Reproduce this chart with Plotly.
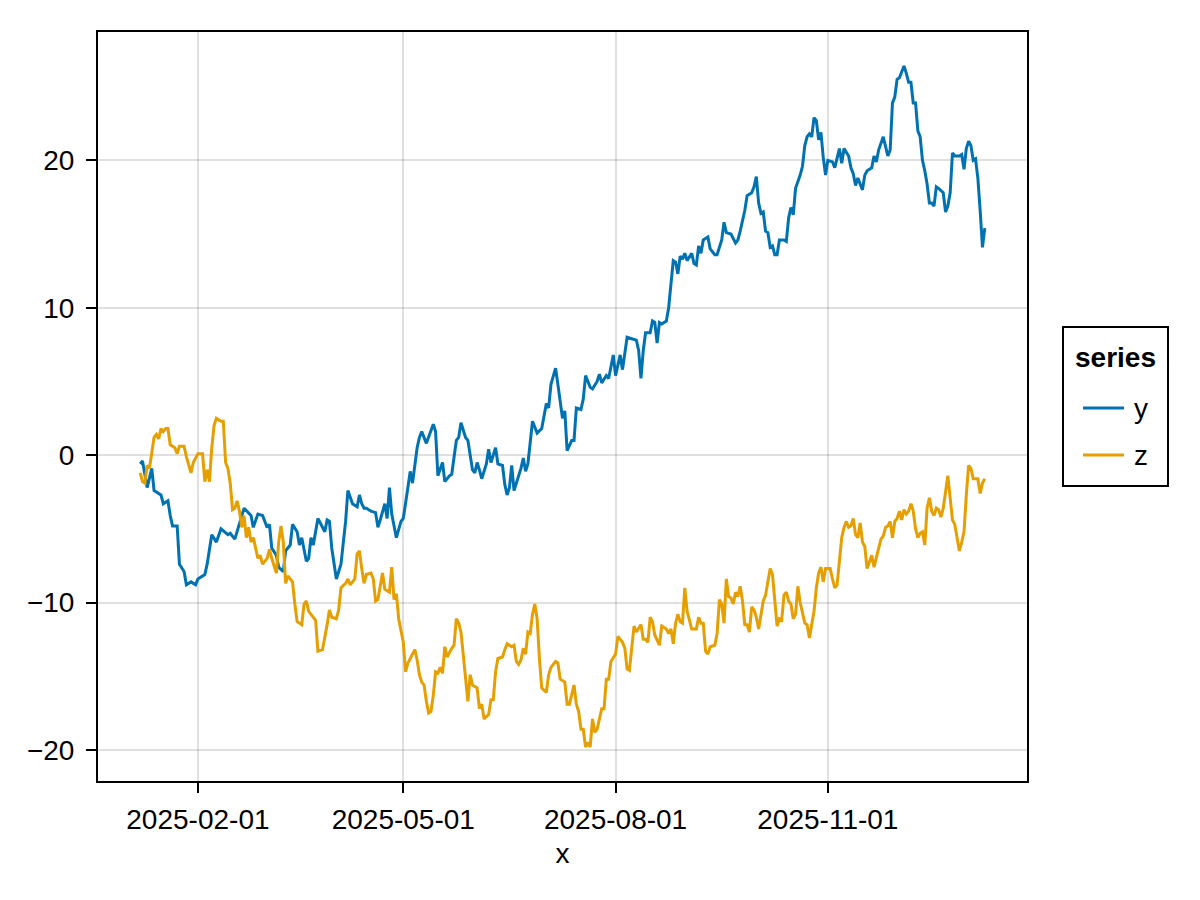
import pandas as pd
import plotly.graph_objects as go

START = "2025-01-07"

# series y: day offsets from START and values
y_days = [0, 1, 3, 5, 6, 9, 10, 12, 13, 14, 16, 17, 19, 20, 22, 24, 25, 28, 29, 31,
          33, 35, 38, 39, 41, 43, 45, 48, 49, 51, 53, 55, 56, 57, 59, 60, 62, 63, 65, 66,
          68, 69, 70, 72, 73, 74, 75, 77, 79, 80, 81, 82, 83, 85, 87, 89, 90, 92, 94, 95,
          96, 97, 98, 100, 102, 103, 104, 106, 107, 108, 109, 111, 113, 114, 116, 117, 118, 120, 121, 122,
          124, 125, 127, 128, 129, 131, 132, 134, 135, 137, 138, 139, 141, 142, 144, 145, 146, 147, 148, 150,
          151, 152, 154, 155, 157, 158, 159, 160, 161, 162, 164, 165, 166, 167, 168, 170, 172, 174, 176, 177,
          178, 180, 181, 183, 184, 185, 187, 188, 189, 191, 192, 193, 195, 196, 198, 199, 200, 202, 203, 205,
          206, 208, 209, 211, 213, 215, 216, 217, 218, 219, 221, 222, 223, 224, 225, 226, 228, 229, 230, 231,
          232, 233, 234, 235, 236, 237, 239, 240, 241, 242, 243, 244, 246, 247, 249, 250, 252, 253, 254, 256,
          258, 259, 260, 262, 263, 265, 266, 267, 268, 269, 270, 271, 272, 273, 274, 275, 276, 277, 279, 280,
          281, 282, 283, 284, 286, 287, 288, 289, 290, 291, 292, 293, 294, 295, 296, 297, 298, 300, 301, 302,
          303, 304, 305, 307, 308, 309, 310, 311, 313, 314, 315, 317, 318, 319, 320, 322, 323, 324, 325, 326,
          327, 328, 329, 331, 332, 333, 334, 335, 336, 337, 338, 339, 340, 341, 342, 343, 344, 345, 346, 348,
          349, 350, 351, 352, 353, 355, 356, 357, 358, 359, 360, 361, 362, 363, 364, 365, 366]
y_vals = [-0.6, -0.4, -2.2, -0.9, -2.4, -2.7, -3.3, -3.1, -4.1, -4.8, -4.8, -7.4, -7.9, -8.8, -8.6, -8.8, -8.4, -8.1, -7.4, -5.4,
          -5.9, -5.0, -5.4, -5.3, -5.7, -4.7, -3.6, -4.1, -4.9, -4.0, -4.1, -4.9, -4.7, -6.3, -6.8, -7.6, -7.9, -6.5, -6.1, -4.7,
          -5.2, -6.1, -5.6, -7.2, -7.0, -5.6, -6.1, -4.3, -4.9, -5.2, -4.4, -4.5, -6.3, -8.4, -7.4, -4.5, -2.4, -3.3, -3.5, -2.7,
          -3.3, -3.6, -3.6, -3.8, -3.9, -4.9, -4.4, -3.3, -4.3, -2.2, -4.0, -5.6, -4.5, -4.3, -2.2, -1.1, -1.9, 0.5, 1.2, 1.6,
          0.8, 1.2, 2.1, 1.6, -1.4, -0.5, -1.8, -1.4, -1.3, 1.0, 1.2, 2.2, 1.2, 1.0, -1.0, -1.2, -0.5, -1.0, -1.6, -0.6,
          0.4, -0.5, 0.5, -0.6, -0.7, -2.0, -2.7, -2.2, -0.7, -2.4, -1.4, -0.9, -0.2, -1.1, -0.6, 2.3, 1.5, 1.8, 3.5, 3.2,
          4.8, 5.9, 4.8, 2.5, 3.0, 0.3, 1.0, 1.0, 3.2, 3.1, 3.8, 5.4, 4.6, 4.5, 5.0, 5.5, 4.9, 5.4, 5.2, 6.8,
          5.4, 6.8, 5.8, 8.0, 7.9, 7.8, 7.1, 5.2, 7.1, 8.3, 8.3, 9.1, 9.0, 7.6, 9.0, 8.9, 9.1, 10.0, 11.6, 13.2,
          13.1, 12.3, 13.5, 13.3, 13.7, 13.2, 13.7, 13.0, 12.9, 14.2, 13.7, 14.6, 14.8, 14.0, 13.6, 13.6, 14.6, 15.8, 15.1, 15.0,
          14.4, 14.6, 15.2, 16.6, 17.6, 17.8, 18.2, 18.9, 17.1, 16.4, 16.5, 15.2, 15.1, 14.1, 14.2, 13.6, 13.6, 14.6, 14.6, 14.5,
          16.1, 16.8, 16.3, 18.1, 19.0, 19.6, 21.0, 21.6, 21.8, 21.6, 22.9, 22.7, 21.4, 21.9, 20.2, 19.0, 20.0, 19.9, 19.5, 20.2,
          20.8, 19.8, 20.8, 20.3, 19.5, 19.1, 18.3, 18.8, 18.0, 19.0, 19.3, 19.5, 20.3, 19.9, 20.7, 21.6, 20.9, 20.3, 20.7, 23.9,
          24.3, 25.5, 25.6, 26.4, 25.9, 25.3, 25.3, 23.9, 23.9, 22.0, 21.6, 20.0, 19.3, 18.4, 17.1, 17.1, 16.9, 18.2, 18.1, 17.8,
          16.5, 16.9, 17.8, 20.5, 20.3, 20.3, 20.4, 19.4, 20.8, 21.3, 21.0, 20.0, 20.1, 18.8, 16.6, 14.1, 15.4]

# series z: day offsets from START and values
z_days = [0, 1, 2, 3, 4, 6, 7, 8, 9, 10, 11, 12, 13, 15, 16, 17, 19, 20, 22, 23,
          25, 27, 28, 29, 30, 31, 32, 33, 35, 36, 37, 38, 39, 40, 41, 42, 43, 44, 45, 46,
          47, 48, 49, 51, 52, 53, 55, 56, 57, 59, 60, 61, 62, 63, 64, 66, 67, 68, 70, 71,
          72, 73, 74, 76, 77, 79, 81, 82, 83, 85, 86, 87, 89, 90, 91, 92, 93, 94, 95, 96,
          97, 98, 100, 101, 102, 103, 105, 106, 108, 109, 110, 111, 112, 114, 115, 116, 117, 118, 119, 120,
          121, 122, 123, 124, 125, 126, 127, 128, 129, 130, 131, 132, 133, 135, 136, 137, 138, 139, 140, 141,
          142, 143, 144, 146, 147, 148, 149, 151, 152, 153, 154, 155, 157, 158, 159, 161, 162, 163, 164, 165,
          166, 167, 168, 169, 170, 171, 172, 173, 174, 176, 177, 178, 180, 181, 182, 184, 185, 186, 188, 189,
          190, 191, 192, 193, 194, 195, 196, 197, 198, 200, 201, 202, 203, 204, 205, 206, 207, 209, 210, 211,
          212, 214, 215, 217, 218, 219, 220, 221, 222, 223, 225, 226, 228, 229, 230, 231, 232, 233, 234, 235,
          236, 237, 238, 239, 241, 242, 243, 244, 245, 246, 247, 249, 250, 251, 252, 253, 254, 255, 256, 257,
          258, 259, 260, 261, 262, 263, 264, 265, 266, 267, 268, 269, 270, 271, 272, 273, 274, 275, 276, 277,
          278, 279, 280, 281, 282, 283, 284, 285, 286, 288, 289, 290, 292, 293, 294, 295, 296, 297, 299, 300,
          301, 302, 304, 305, 306, 307, 308, 309, 310, 311, 312, 313, 314, 315, 317, 318, 319, 321, 322, 323,
          324, 325, 326, 327, 328, 329, 330, 331, 332, 333, 334, 335, 336, 337, 338, 339, 340, 341, 342, 343,
          344, 345, 346, 347, 348, 349, 350, 351, 352, 353, 355, 356, 357, 358, 359, 360, 361, 362, 363, 364,
          365, 366]
z_vals = [-1.2, -1.8, -1.9, -0.7, -0.9, 1.2, 1.4, 1.1, 1.8, 1.6, 1.8, 1.8, 0.7, 0.5, 0.1, 0.6, 0.6, -0.1, -1.2, -0.5,
          0.1, 0.1, -1.8, -1.0, -1.8, 0.5, 2.0, 2.5, 2.3, 2.3, -0.5, -0.9, -1.9, -3.7, -3.6, -3.1, -3.8, -4.9, -4.1, -5.6,
          -4.9, -5.9, -5.6, -7.0, -6.8, -7.4, -7.0, -6.4, -7.0, -8.0, -5.9, -4.8, -5.9, -8.7, -8.2, -8.6, -10.1, -11.3, -11.5, -10.1,
          -9.9, -10.6, -10.8, -11.2, -13.3, -13.2, -11.5, -10.5, -11.0, -11.1, -10.5, -9.0, -8.7, -8.4, -8.8, -8.6, -8.4, -6.7, -6.5, -7.7,
          -8.7, -8.1, -8.0, -8.4, -9.9, -9.8, -8.0, -9.1, -9.3, -7.6, -9.8, -9.4, -11.1, -12.7, -14.7, -14.1, -13.8, -13.5, -13.2, -13.9,
          -14.9, -15.4, -15.6, -16.7, -17.5, -17.4, -16.3, -14.7, -14.8, -14.4, -14.8, -13.0, -13.7, -13.1, -12.9, -11.1, -11.4, -12.0, -13.5, -15.4,
          -16.7, -14.9, -15.6, -15.8, -17.2, -16.9, -17.9, -17.6, -16.6, -16.6, -14.7, -13.8, -13.7, -13.2, -12.8, -13.0, -12.9, -14.0, -14.2, -13.9,
          -13.1, -13.5, -12.0, -12.1, -10.8, -10.1, -11.1, -13.8, -15.8, -16.1, -14.9, -14.4, -14.0, -14.1, -15.2, -15.4, -16.9, -16.9, -15.6, -16.9,
          -17.4, -18.6, -18.6, -19.8, -19.5, -19.8, -17.9, -18.8, -18.6, -17.2, -17.2, -15.2, -15.2, -14.0, -13.7, -13.5, -12.3, -12.7, -13.1, -14.5,
          -14.6, -11.6, -12.0, -11.5, -12.5, -12.5, -12.7, -11.0, -11.3, -12.2, -12.9, -11.6, -11.8, -12.1, -11.8, -12.8, -11.4, -10.8, -11.3, -11.4,
          -9.0, -10.6, -11.2, -11.8, -11.8, -11.0, -11.4, -11.4, -13.3, -13.5, -13.0, -12.9, -12.1, -9.8, -10.1, -11.4, -8.4, -9.6, -9.7, -10.1,
          -9.3, -9.6, -8.9, -9.9, -11.5, -11.5, -12.0, -10.3, -10.5, -11.0, -11.8, -10.8, -9.9, -9.5, -8.7, -7.7, -8.1, -9.9, -11.6, -11.1,
          -11.2, -9.5, -9.3, -9.9, -10.1, -11.1, -10.8, -8.9, -10.0, -11.4, -11.5, -12.4, -10.6, -9.0, -8.0, -7.6, -8.6, -7.7, -7.7, -8.4,
          -9.0, -8.8, -5.6, -4.9, -4.5, -4.9, -4.8, -4.3, -5.4, -5.6, -4.6, -5.9, -6.2, -7.7, -6.8, -7.6, -6.9, -5.7, -5.5, -4.9,
          -4.8, -4.5, -5.6, -4.5, -4.3, -3.8, -4.4, -3.7, -4.0, -3.8, -3.3, -3.8, -5.0, -5.6, -5.3, -5.2, -6.1, -3.6, -2.9, -3.8,
          -4.1, -3.6, -3.7, -4.2, -3.6, -2.6, -1.4, -2.9, -4.4, -4.7, -6.5, -5.9, -5.2, -2.7, -0.7, -0.9, -1.6, -1.6, -1.6, -2.6,
          -1.9, -1.6]

series_names = ["y", "z"]
legend_title = "series"
x_title = "x"
x_tick_labels = ["2025-02-01", "2025-05-01", "2025-08-01", "2025-11-01"]
y_tick_vals = [-20, -10, 0, 10, 20]

start = pd.Timestamp(START)
y_dates = start + pd.to_timedelta(y_days, unit="D")
z_dates = start + pd.to_timedelta(z_days, unit="D")

BLUE = "#0072B2"
ORANGE = "#E69F00"
COLORS = [BLUE, ORANGE]
FONT = "Liberation Sans, Arial, sans-serif"
FS = 28

fig = go.Figure()
fig.add_trace(go.Scatter(x=y_dates, y=y_vals, mode="lines", name=series_names[0],
                         line=dict(color=COLORS[0], width=3), showlegend=False))
fig.add_trace(go.Scatter(x=z_dates, y=z_vals, mode="lines", name=series_names[1],
                         line=dict(color=COLORS[1], width=3), showlegend=False))

# Makie-like autolimits: 5% padding on each side
xmin = min(y_dates.min(), z_dates.min())
xmax = max(y_dates.max(), z_dates.max())
xpad = (xmax - xmin) * 0.05
allv = y_vals + z_vals
vmin, vmax = min(allv), max(allv)
vpad = (vmax - vmin) * 0.05

axis_common = dict(
    showline=True, mirror=True, linecolor="black", linewidth=2,
    showgrid=True, gridcolor="rgba(0,0,0,0.12)", gridwidth=2,
    zeroline=False, ticks="outside", ticklen=10, tickwidth=2, tickcolor="black",
    tickfont=dict(family=FONT, size=FS, color="black"),
)

fig.update_xaxes(
    range=[xmin - xpad, xmax + xpad],
    tickvals=pd.to_datetime(x_tick_labels), ticktext=x_tick_labels,
    ticklabelstandoff=2,
    title=dict(text=x_title, font=dict(family=FONT, size=FS, color="black"), standoff=10),
    **axis_common,
)
fig.update_yaxes(
    range=[vmin - vpad, vmax + vpad],
    tickvals=y_tick_vals,
    ticklabelstandoff=6,
    **axis_common,
)

# Legend box drawn to the right of the axis (paper coordinates)
PW, PH = 929.0, 749.0
def px_x(d):  # offset in px from plot left edge -> paper
    return d / PW
def px_y(d):  # offset in px from plot bottom edge -> paper
    return d / PH

box_l, box_r = px_x(965), px_x(1070)
box_b, box_t = px_y(295), px_y(454)
fig.add_shape(type="rect", xref="paper", yref="paper",
              x0=box_l, x1=box_r, y0=box_b, y1=box_t,
              line=dict(color="black", width=2), fillcolor="white", layer="above")
fig.add_annotation(xref="paper", yref="paper", x=(box_l + box_r) / 2, y=px_y(424),
                   text="<b>" + legend_title + "</b>", showarrow=False,
                   xanchor="center", yanchor="middle",
                   font=dict(family=FONT, size=FS, color="black"))
entry_y = [px_y(373), px_y(326)]
for name, col, ey in zip(series_names, COLORS, entry_y):
    fig.add_shape(type="line", xref="paper", yref="paper",
                  x0=px_x(985), x1=px_x(1026), y0=ey, y1=ey,
                  line=dict(color=col, width=3))
    fig.add_annotation(xref="paper", yref="paper", x=px_x(1034), y=ey,
                       text=name, showarrow=False, xanchor="left", yanchor="middle",
                       font=dict(family=FONT, size=FS, color="black"))

# page body has an 8px margin, so shift the layout margins accordingly
fig.update_layout(
    width=1200, height=900,
    paper_bgcolor="white", plot_bgcolor="white",
    margin=dict(l=90, r=181, t=24, b=127, autoexpand=False),
    font=dict(family=FONT, size=FS, color="black"),
    showlegend=False,
)

fig.write_html("out.html")
